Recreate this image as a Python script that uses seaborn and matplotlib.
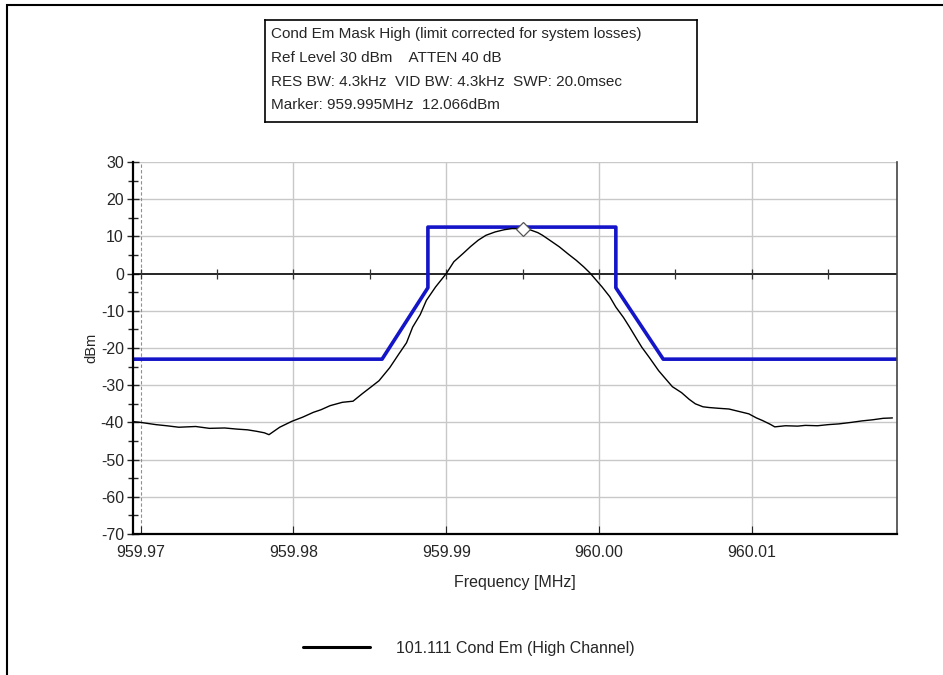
import numpy as np
import pandas as pd
import seaborn as sns
import matplotlib.pyplot as plt
from matplotlib.patches import Rectangle

freq = [959.9695, 959.9700, 959.9710, 959.9717, 959.9725, 959.9736, 959.9745,
        959.9755, 959.9763, 959.9770, 959.9776, 959.9781, 959.9784, 959.9791,
        959.9799, 959.9806, 959.9813, 959.9818, 959.9824, 959.9832, 959.9839,
        959.9845, 959.9851, 959.9856, 959.9863, 959.9869, 959.9874, 959.9878,
        959.9883, 959.9887, 959.9893, 959.9900, 959.9905, 959.9911, 959.9916,
        959.9921, 959.9926, 959.9932, 959.9938, 959.9943, 959.9950, 959.9954,
        959.9960, 959.9963, 959.9968, 959.9974, 959.9980, 959.9985, 959.9990,
        959.9994, 960.0002, 960.0007, 960.0011, 960.0016, 960.0020, 960.0025,
        960.0028, 960.0033, 960.0039, 960.0044, 960.0048, 960.0054, 960.0059,
        960.0063, 960.0068, 960.0072, 960.0078, 960.0085, 960.0091, 960.0098,
        960.0103, 960.0107, 960.0112, 960.0115, 960.0122, 960.0130, 960.0135,
        960.0143, 960.0150, 960.0157, 960.0165, 960.0172, 960.0179, 960.0186,
        960.0192]
level = [-39.8, -40.0, -40.6, -40.9, -41.3, -41.1, -41.6,
         -41.5, -41.8, -42.0, -42.4, -42.8, -43.3, -41.3,
         -39.7, -38.6, -37.3, -36.6, -35.5, -34.6, -34.3,
         -32.3, -30.4, -28.8, -25.3, -21.6, -18.6, -14.4,
         -11.0, -7.2, -3.6, 0.0, 3.2, 5.4, 7.3,
         9.0, 10.3, 11.2, 11.8, 12.1, 12.07, 11.9,
         11.0, 10.3, 8.9, 7.2, 5.2, 3.6, 1.8,
         0.2, -3.6, -6.2, -9.0, -11.8, -14.4, -17.8,
         -19.8, -22.6, -26.1, -28.5, -30.4, -32.0, -33.8,
         -35.0, -35.8, -36.0, -36.2, -36.4, -37.0, -37.7,
         -38.8, -39.5, -40.5, -41.2, -40.9, -41.0, -40.8,
         -40.9, -40.6, -40.4, -40.0, -39.6, -39.3, -38.9,
         -38.8]

# Masque limite
mask_freq = [959.9695, 959.9858, 959.9888, 959.9888, 960.0011, 960.0011, 960.0042, 960.0195]
mask_level = [-23.0, -23.0, -3.8, 12.5, 12.5, -3.8, -23.0, -23.0]

marker_freq = [959.995]
marker_level = [12.066]

info_lines = ["Cond Em Mask High (limit corrected for system losses)",
              "Ref Level 30 dBm    ATTEN 40 dB",
              "RES BW: 4.3kHz  VID BW: 4.3kHz  SWP: 20.0msec",
              "Marker: 959.995MHz  12.066dBm"]

x_ticks = [959.97, 959.98, 959.99, 960.00, 960.01]
y_ticks = [30, 20, 10, 0, -10, -20, -30, -40, -50, -60, -70]

df = pd.DataFrame({"Frequency": freq, "dBm": level})
df_mask = pd.DataFrame({"Frequency": mask_freq, "dBm": mask_level})

sns.set_style("white")
plt.rcParams['font.family'] = ['Liberation Sans', 'DejaVu Sans']
plt.rcParams['axes.unicode_minus'] = False

fig = plt.figure(figsize=(9.43, 6.75), dpi=100)
ax = fig.add_axes([133/943, 1-534/675, (897-133)/943, (534-162)/675])

# Grille
for yv in y_ticks:
    if yv != 0:
        ax.axhline(yv, color="#c8c8c8", lw=1, zorder=0)
for xv in x_ticks[1:]:
    ax.axvline(xv, color="#c8c8c8", lw=1, zorder=0)
ax.axvline(x_ticks[0], color="#909090", lw=0.8, ls=(0, (3, 2)), zorder=0)

# Ligne du zero avec petites graduations
ax.axhline(0, color="black", lw=1.2, zorder=1)
zero_ticks = np.arange(959.97, 960.0176, 0.005)
ax.plot(zero_ticks, np.zeros_like(zero_ticks), ls="none", marker="|",
        color="#333333", ms=7, mew=0.9, zorder=1)

sns.lineplot(data=df_mask, x="Frequency", y="dBm", color="#1414c8", lw=2.6,
             sort=False, estimator=None, errorbar=None, ax=ax, zorder=2)
sns.lineplot(data=df, x="Frequency", y="dBm", color="black", lw=1.0,
             sort=False, estimator=None, errorbar=None, ax=ax, zorder=3,
             label="101.111 Cond Em (High Channel)")
ax.plot(marker_freq, marker_level, ls="none", marker="D", ms=7, mfc="white",
        mec="#555555", mew=0.9, zorder=4)

ax.set_xlim(959.9695, 960.0195)
ax.set_ylim(-70, 30)
ax.set_xticks(x_ticks)
ax.set_xticklabels(["959.97", "959.98", "959.99", "960.00", "960.01"])
ax.set_yticks(y_ticks)
ax.set_yticks(np.arange(-65, 30, 10), minor=True)
ax.tick_params(axis="y", which="major", direction="inout", length=9, width=1,
               labelsize=11.5, pad=2, left=True)
ax.tick_params(axis="y", which="minor", direction="inout", length=7, width=1, left=True)
ax.tick_params(axis="x", which="major", direction="in", length=6, width=0.8,
               labelsize=11.5, pad=8, bottom=True)
ax.set_xlabel("Frequency [MHz]", fontsize=11.5, labelpad=11)
ax.set_ylabel("dBm", fontsize=10.5)
ax.yaxis.set_label_coords((98 - 133) / 764, 0.5)

for side in ["left", "bottom"]:
    ax.spines[side].set_color("black")
    ax.spines[side].set_linewidth(1.6)
ax.spines["right"].set_color("#444444")
ax.spines["right"].set_linewidth(1.2)
ax.spines["top"].set_visible(False)

# Bloc d'informations
info_ax = fig.add_axes([265/943, 1-122/675, (697-265)/943, (122-20)/675])
info_ax.set_xticks([])
info_ax.set_yticks([])
for s in info_ax.spines.values():
    s.set_color("black")
    s.set_linewidth(1.2)
for i, txt in enumerate(info_lines):
    info_ax.text(0.015, 0.86 - i * 0.232, txt, fontsize=11, va="center",
                 ha="left", transform=info_ax.transAxes)

# Legende
ax.get_legend().remove()
handles, labels = ax.get_legend_handles_labels()
leg = fig.legend(handles[-1:], labels[-1:], loc="center",
                 bbox_to_anchor=(469/943, 1-648/675), frameon=False,
                 fontsize=11.5, handlelength=4.2, handletextpad=1.6)
for line in leg.get_lines():
    line.set_linewidth(2.2)

# Cadre exterieur
fig.patches.append(Rectangle((7/943, -0.05), 1.2, 1 - 5/675 + 0.05,
                             transform=fig.transFigure, fill=False,
                             edgecolor="black", lw=1.5))

fig.savefig("out.png", dpi=100)
